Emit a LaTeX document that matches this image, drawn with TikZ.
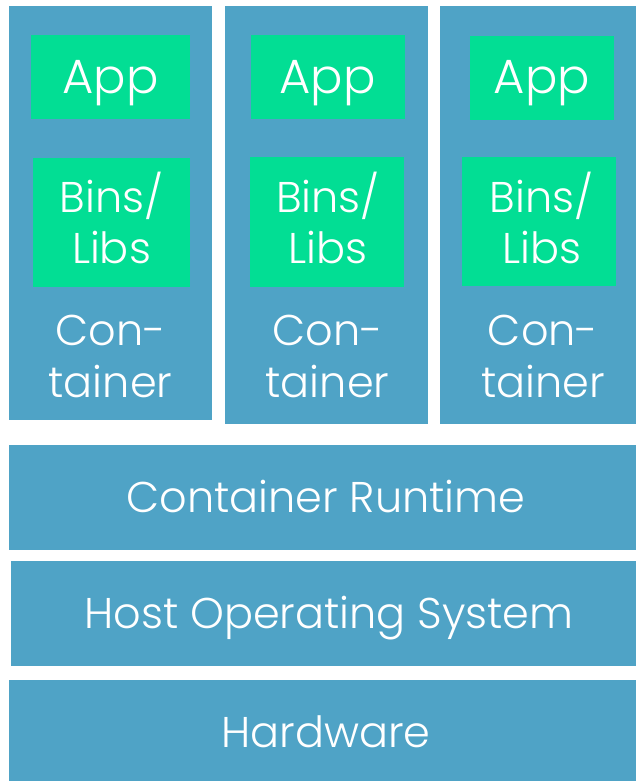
\documentclass[tikz,border=0pt]{standalone}
\usepackage{fontspec}
\IfFontExistsTF{Poppins Light}{\setmainfont{Poppins Light}}{\setmainfont{Poppins}}
\definecolor{layerblue}{RGB}{79,163,198}
\definecolor{appgreen}{RGB}{2,222,148}
\begin{document}
\begin{tikzpicture}[x=1pt,y=-1pt,
  blk/.style={fill=layerblue,draw=none,inner sep=0pt,rectangle},
  grn/.style={fill=appgreen,draw=none,inner sep=0pt,rectangle},
  lbl/.style={text=white,anchor=base,inner sep=0pt,font=\fontsize{43}{50}\selectfont},
  biglbl/.style={text=white,anchor=base,inner sep=0pt,font=\fontsize{48}{56}\selectfont}]
\useasboundingbox (0,0) rectangle (636,781);
% containers
\node[blk,minimum width=203pt,minimum height=414pt] (c1) at (110.5,213) {};
\node[blk,minimum width=203pt,minimum height=418pt] (c2) at (326.5,215) {};
\node[blk,minimum width=196pt,minimum height=418pt] (c3) at (538,215) {};
% app boxes
\node[grn,minimum width=159pt,minimum height=84pt] (a1) at (110.5,77) {};
\node[grn,minimum width=154pt,minimum height=84pt] (a2) at (328,77) {};
\node[grn,minimum width=144pt,minimum height=84pt] (a3) at (542,78) {};
% bins boxes
\node[grn,minimum width=157pt,minimum height=129pt] (b1) at (111.5,222.5) {};
\node[grn,minimum width=154pt,minimum height=130pt] (b2) at (327,222) {};
\node[grn,minimum width=154pt,minimum height=129pt] (b3) at (539,221.5) {};
% layers
\node[blk,minimum width=627pt,minimum height=105pt] (rt) at (322.5,497.5) {};
\node[blk,minimum width=625pt,minimum height=105pt] (os) at (323.5,613.5) {};
\node[blk,minimum width=627pt,minimum height=101pt] (hw) at (322.5,730.5) {};
% texts container 1
\node[biglbl] (ta1) at (110.5,94) {App};
\node[lbl] (tb1a) at (111.5,212) {Bins/};
\node[lbl] (tb1b) at (111.5,263) {Libs};
\node[lbl] (tc1a) at (110.5,345) {Con-};
\node[lbl] (tc1b) at (110.5,397) {tainer};
% texts container 2
\node[biglbl] (ta2) at (327.5,94) {App};
\node[lbl] (tb2a) at (328,212) {Bins/};
\node[lbl] (tb2b) at (328,263) {Libs};
\node[lbl] (tc2a) at (327.5,345) {Con-};
\node[lbl] (tc2b) at (327.5,397) {tainer};
% texts container 3
\node[biglbl] (ta3) at (542,94) {App};
\node[lbl] (tb3a) at (541.5,212) {Bins/};
\node[lbl] (tb3b) at (541.5,263) {Libs};
\node[lbl] (tc3a) at (543,345) {Con-};
\node[lbl] (tc3b) at (543,397) {tainer};
% layer texts
\node[lbl] (trt) at (326,512.5) {Container Runtime};
\node[lbl] (tos) at (329,628.5) {Host Operating System};
\node[lbl] (thw) at (326,747.5) {Hardware};
\end{tikzpicture}
\end{document}
